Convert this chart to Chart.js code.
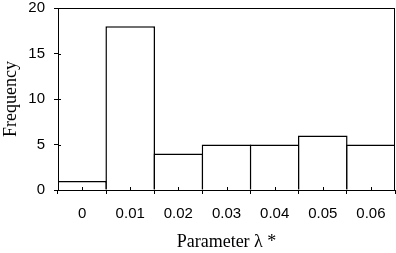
<!DOCTYPE html>
<html>
<head>
<meta charset="utf-8">
<script src="https://cdn.jsdelivr.net/npm/chart.js@4"></script>
<style>
  html,body{margin:0;padding:0;background:#fff;}
  #wrap{width:396px;height:253px;}
</style>
</head>
<body>
<div id="wrap"><canvas id="chart" width="396" height="253"></canvas></div>
<script>
// DATA
const categories = ["0","0.01","0.02","0.03","0.04","0.05","0.06"];
const frequency = [1, 18, 4, 5, 5, 6, 5];
const yTicks = [0, 5, 10, 15, 20];

// frame, inner y ticks and half-way ticks on the x axis
const frame = {
  id:'frame',
  afterDraw(c){
    const ctx=c.ctx, a=c.chartArea, x=c.scales.x, y=c.scales.y;
    ctx.save();
    ctx.strokeStyle='#000';
    ctx.lineWidth=1;
    ctx.strokeRect(Math.round(a.left)+0.5, Math.round(a.top)+0.5,
                   Math.round(a.right-a.left)-1, Math.round(a.bottom-a.top));
    ctx.beginPath();
    for(let i=0;i<categories.length;i++){
      const px=Math.round(x.getPixelForValue(i))+0.5;
      ctx.moveTo(px,a.bottom); ctx.lineTo(px,a.bottom-3);
    }
    yTicks.forEach(v=>{
      const py=Math.round(y.getPixelForValue(v))+0.5;
      ctx.moveTo(a.left,py); ctx.lineTo(a.left+3,py);
    });
    ctx.stroke();
    ctx.restore();
  }
};

new Chart(document.getElementById("chart"),{
  type:'bar',
  data:{
    labels:categories,
    datasets:[{
      data:frequency,
      backgroundColor:'#fff',
      borderColor:'#000',
      borderWidth:1.5,
      barPercentage:1.03,
      categoryPercentage:1
    }]
  },
  options:{
    responsive:false,
    animation:false,
    layout:{padding:{top:8,right:1,left:0,bottom:0}},
    plugins:{legend:{display:false},tooltip:{enabled:false}},
    scales:{
      x:{
        grid:{display:true,offset:true,drawOnChartArea:false,tickLength:4,color:'#000'},
        border:{color:'#000'},
        ticks:{color:'#000',font:{family:'Liberation Sans',size:15},padding:11,maxRotation:0},
        title:{display:true,text:'Parameter λ *',color:'#000',
               font:{family:'Liberation Serif',size:18},padding:{top:6,bottom:0}},
        afterFit(s){ s.height=63; s.paddingRight=0; }
      },
      y:{
        min:0,max:20,
        afterBuildTicks(s){ s.ticks=yTicks.map(v=>({value:v})); },
        grid:{display:true,drawOnChartArea:false,tickLength:4,color:'#000'},
        border:{color:'#000'},
        ticks:{color:'#000',font:{family:'Liberation Sans',size:15},padding:9},
        title:{display:true,text:'Frequency',color:'#000',
               font:{family:'Liberation Serif',size:18},padding:{top:0,bottom:4}},
        afterFit(s){ s.width=58; s.paddingTop=0; }
      }
    }
  },
  plugins:[frame]
});
</script>
</body>
</html>
